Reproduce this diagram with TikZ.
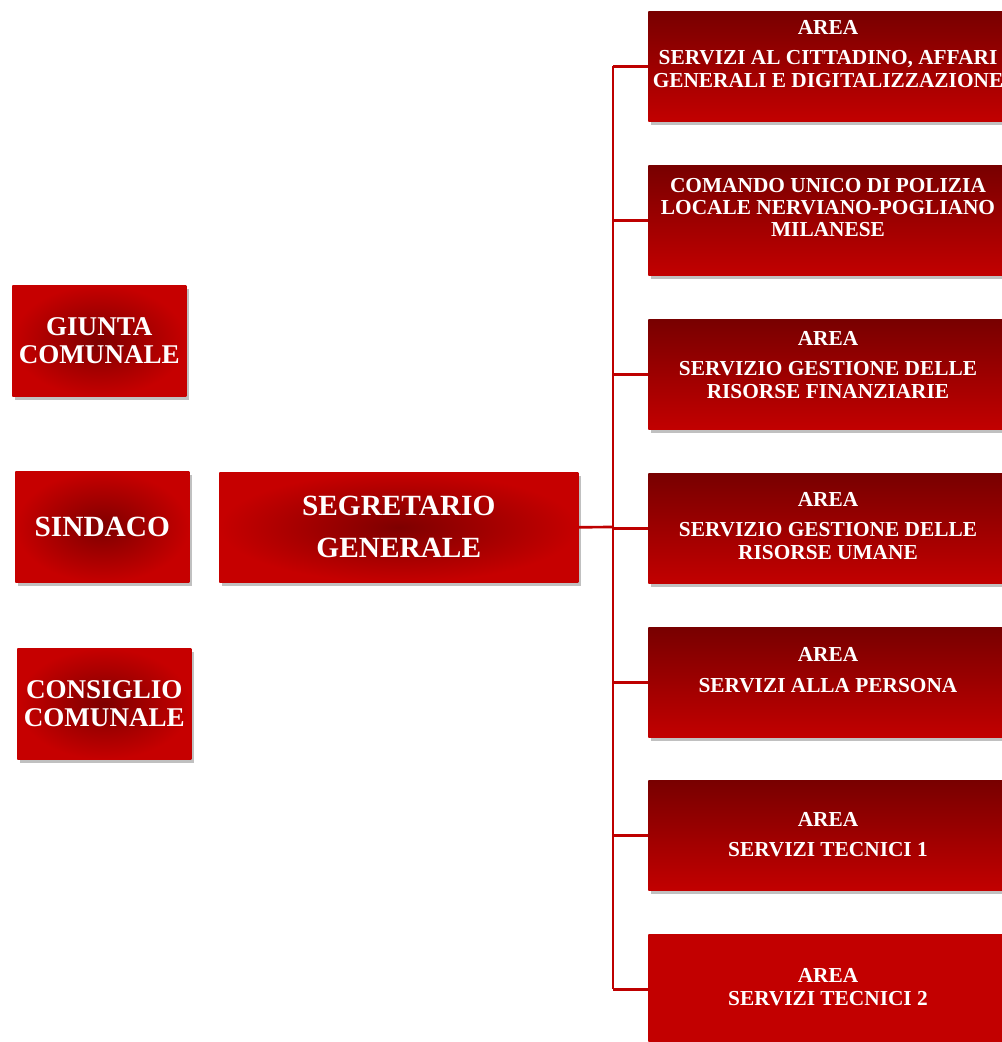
\documentclass[tikz,border=0pt]{standalone}
\usepackage{fontspec}
\setmainfont{Liberation Serif}
\usetikzlibrary{shadows}

\definecolor{areatop}{HTML}{780000}
\definecolor{areamid}{HTML}{A60000}
\definecolor{areabottom}{HTML}{C20000}
\definecolor{organocentre}{HTML}{7E0000}
\definecolor{organoedge}{HTML}{C60000}
\definecolor{linkred}{HTML}{BE0000}

\tikzset{
  boxshadow/.style={drop shadow={shadow xshift=2pt, shadow yshift=-3pt, fill=black!45, opacity=.55}},
  areabox/.style={rectangle, anchor=north west, inner sep=0pt,
    minimum width=360*0.75pt, minimum height=110*0.75pt,
    top color=areatop, middle color=areamid, bottom color=areabottom, boxshadow},
  areatext/.style={text=white, align=center, inner sep=0pt,
    font=\bfseries\fontsize{16}{16.8}\selectfont},
  organo/.style={rectangle, anchor=north west, inner sep=0pt, align=center,
    minimum width=174*0.75pt, minimum height=111*0.75pt, text=white,
    inner color=organocentre, outer color=organoedge, boxshadow,
    font=\bfseries\fontsize{20.3}{21.5}\selectfont},
  conn/.style={draw=linkred, line width=2pt}
}

\begin{document}
\begin{tikzpicture}[x=0.75pt, y=-0.75pt]
  \useasboundingbox (0,0) rectangle (1002,1042);

  % organi politici
  \node[organo] (giunta) at (12,285) {GIUNTA\\COMUNALE};
  \node[organo, font=\bfseries\fontsize{22}{24}\selectfont, text depth=-2pt] (sindaco) at (15,471) {SINDACO};
  \node[organo] (consiglio) at (17,648) {CONSIGLIO\\COMUNALE};
  \node[organo, minimum width=359*0.75pt, minimum height=110*0.75pt,
        font=\bfseries\fontsize{22}{31.5}\selectfont] (segretario) at (219,472) {SEGRETARIO\\GENERALE};

  % aree
  \node[areabox] (a1) at (648,11) {};
  \node[areabox] (a2) at (648,165) {};
  \node[areabox] (a3) at (648,319) {};
  \node[areabox] (a4) at (648,473) {};
  \node[areabox] (a5) at (648,627) {};
  \node[areabox] (a6) at (648,780) {};
  \node[areabox, top color=areabottom, middle color=areabottom] (a7) at (648,934) {};

  \node[areatext] (t1) at (828,54) {AREA\\[6pt]SERVIZI AL CITTADINO, AFFARI\\GENERALI E DIGITALIZZAZIONE};
  \node[areatext] (t2) at (828,207.5) {COMANDO UNICO DI POLIZIA\\LOCALE NERVIANO-POGLIANO\\MILANESE};
  \node[areatext] (t3) at (828,365) {AREA\\[6pt]SERVIZIO GESTIONE DELLE\\RISORSE FINANZIARIE};
  \node[areatext] (t4) at (828,526) {AREA\\[6pt]SERVIZIO GESTIONE DELLE\\RISORSE UMANE};
  \node[areatext] (t5) at (828,670) {AREA\\[6pt]SERVIZI ALLA PERSONA};
  \node[areatext] (t6) at (828,834.5) {AREA\\[6pt]SERVIZI TECNICI 1};
  \node[areatext] (t7) at (828,987) {AREA\\SERVIZI TECNICI 2};

  % collegamenti
  \coordinate (snodo) at (613,527);
  \draw[conn] (segretario.east) -- (snodo);
  \draw[conn] (snodo |- a1.west) -- (snodo |- a7.west);
  \foreach \i in {1,...,7}
    \draw[conn] (snodo |- a\i.west) -- (a\i.west);
\end{tikzpicture}
\end{document}
